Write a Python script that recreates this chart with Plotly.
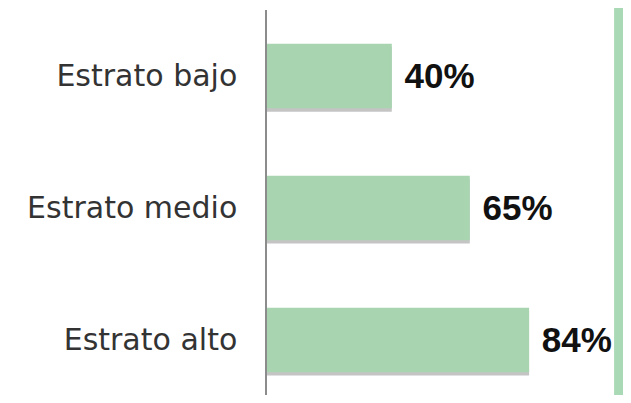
"""Share by socioeconomic stratum - horizontal bar chart."""

import plotly.graph_objects as go

# data (bottom to top, as plotly draws categories)
CATEGORIES = ["Estrato alto", "Estrato medio", "Estrato bajo"]
VALUES = [84, 65, 40]

BAR_GREEN = "#a8d5b0"
SHADOW_GRAY = "#c4c4c4"
STRIP_GREEN = "#a9d9b5"
AXIS_GRAY = "#8c8c8c"
TEXT_DARK = "#333333"

BAR_W = 0.49

fig = go.Figure()

# soft drop shadow under each bar
fig.add_trace(
    go.Bar(
        y=CATEGORIES,
        x=VALUES,
        orientation="h",
        marker=dict(color=SHADOW_GRAY, line=dict(width=0)),
        width=BAR_W,
        offset=-BAR_W / 2 - 0.025,
        hoverinfo="skip",
    )
)

fig.add_trace(
    go.Bar(
        y=CATEGORIES,
        x=VALUES,
        orientation="h",
        marker=dict(color=BAR_GREEN, line=dict(width=0)),
        width=BAR_W,
        offset=-BAR_W / 2,
        text=[f"\u00a0{v}%" for v in VALUES],
        textposition="outside",
        constraintext="none",
        cliponaxis=False,
        textfont=dict(family="Liberation Sans", size=35, color="#111111", weight="bold"),
        hovertemplate="%{y}: %{x}%<extra></extra>",
    )
)

# page body adds an 8px margin, so the figure is sized to fit without scrollbars
fig.update_layout(
    width=615,
    height=387,
    barmode="overlay",
    margin={"l": 259, "r": 0, "t": 2, "b": 0, "pad": 0},
    paper_bgcolor="white",
    plot_bgcolor="white",
    showlegend=False,
    font=dict(family="DejaVu Sans", color=TEXT_DARK),
    xaxis=dict(
        range=[0, 114.1],
        visible=False,
        showgrid=False,
        zeroline=False,
    ),
    yaxis=dict(
        range=[-0.417, 2.5],
        showline=True,
        linecolor=AXIS_GRAY,
        linewidth=1.5,
        showgrid=False,
        ticks="",
        ticklabelstandoff=22,
        tickfont=dict(size=30, color=TEXT_DARK),
    ),
    # decorative green strip on the right edge
    shapes=[
        dict(
            type="rect",
            xref="x domain",
            yref="paper",
            x0=0.975,
            x1=1.0,
            y0=-0.05,
            y1=1.05,
            fillcolor=STRIP_GREEN,
            line=dict(width=0),
            layer="below",
        )
    ],
)

fig.write_html("out.html")
